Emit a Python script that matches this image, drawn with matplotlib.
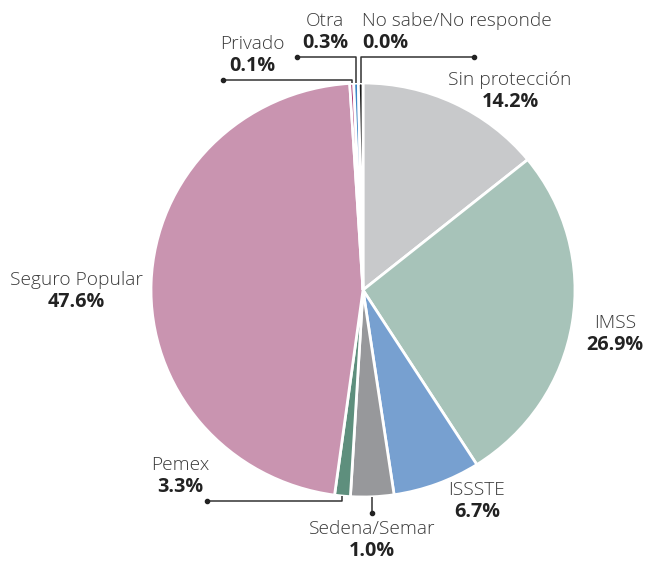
import numpy as np
import matplotlib
matplotlib.use('Agg')
import matplotlib.pyplot as plt

categories = ['Sin protección', 'IMSS', 'ISSSTE', 'Sedena/Semar', 'Pemex',
              'Seguro Popular', 'Privado', 'Otra', 'No sabe/No responde']
# wedge sizes as drawn in the picture
shares_drawn = [14.2, 26.9, 6.7, 3.3, 1.2, 47.0, 0.3, 0.35, 0.35]
# percentages as printed on the labels
share_labels = ['14.2%', '26.9%', '6.7%', '1.0%', '3.3%', '47.6%', '0.1%', '0.3%', '0.0%']
colors = ['#c8c9cb', '#a7c3b9', '#77a0d0', '#97989b', '#5e8f7d',
          '#c994b0', '#a8326e', '#3c86c6', '#1b1b1b']

W, H = 647, 562
CX, CY, RX, RY = 363, 290, 212, 207

def d(px, py):
    return (px - CX) / RX, (CY - py) / RY

fig = plt.figure(figsize=(W / 100, H / 100), dpi=100)
ax = fig.add_axes([(CX - RX) / W, (H - CY - RY) / H, 2 * RX / W, 2 * RY / H])
wedges, _ = ax.pie(shares_drawn, colors=colors, startangle=90, counterclock=False,
                   radius=1, wedgeprops=dict(edgecolor='white', linewidth=2))
ax.set_aspect('auto')
ax.set_xlim(-1, 1)
ax.set_ylim(-1, 1)
ax.axis('off')

FONT = 'Open Sans'
FS = 13.8
FSB = 14.2

# label placement (pixel centres)
label_pos = {
    'Sin protección': (510, 80, 'center'),
    'IMSS': (615, 323, 'center'),
    'ISSSTE': (477, 490, 'center'),
    'Sedena/Semar': (372, 529, 'center'),
    'Pemex': (180, 465, 'center'),
    'Seguro Popular': (76, 280, 'center'),
    'Privado': (252, 44, 'center'),
    'Otra': (325, 21, 'center'),
    'No sabe/No responde': (362, 21, 'left'),
}
for cat, lab in zip(categories, share_labels):
    px, py, ha = label_pos[cat]
    x, y = d(px, py)
    ax.text(x, y, cat, ha=ha, va='center', fontsize=FS, family=FONT,
            color='#3a3a3a', clip_on=False, fontweight='light')
    x2, y2 = d(px, py + 22)
    ax.text(x2, y2, lab, ha=ha, va='center', fontsize=FSB, family=FONT,
            color='#222222', fontweight='bold', clip_on=False)

# leader lines: (elbow y pixel, dot x pixel or None)
leaders = {
    'Privado': (80, 223),
    'Otra': (57, 297),
    'No sabe/No responde': (57, 474),
    'Pemex': (501, 207),
    'Sedena/Semar': (513, None),
}
for i, cat in enumerate(categories):
    if cat not in leaders:
        continue
    w = wedges[i]
    th = np.deg2rad((w.theta1 + w.theta2) / 2)
    ax0, ay0 = np.cos(th), np.sin(th)
    ey_px, dx_px = leaders[cat]
    _, ey = d(0, ey_px)
    if dx_px is None:
        xs, ys = [ax0, ax0], [ay0, ey]
    else:
        dx, _ = d(dx_px, 0)
        xs, ys = [ax0, ax0, dx], [ay0, ey, ey]
    ax.plot(xs, ys, color='#333333', lw=1.1, clip_on=False, solid_capstyle='butt')
    ax.plot([xs[-1]], [ys[-1]], 'o', color='#222222', ms=3, clip_on=False)

fig.savefig('out.png', dpi=100)
